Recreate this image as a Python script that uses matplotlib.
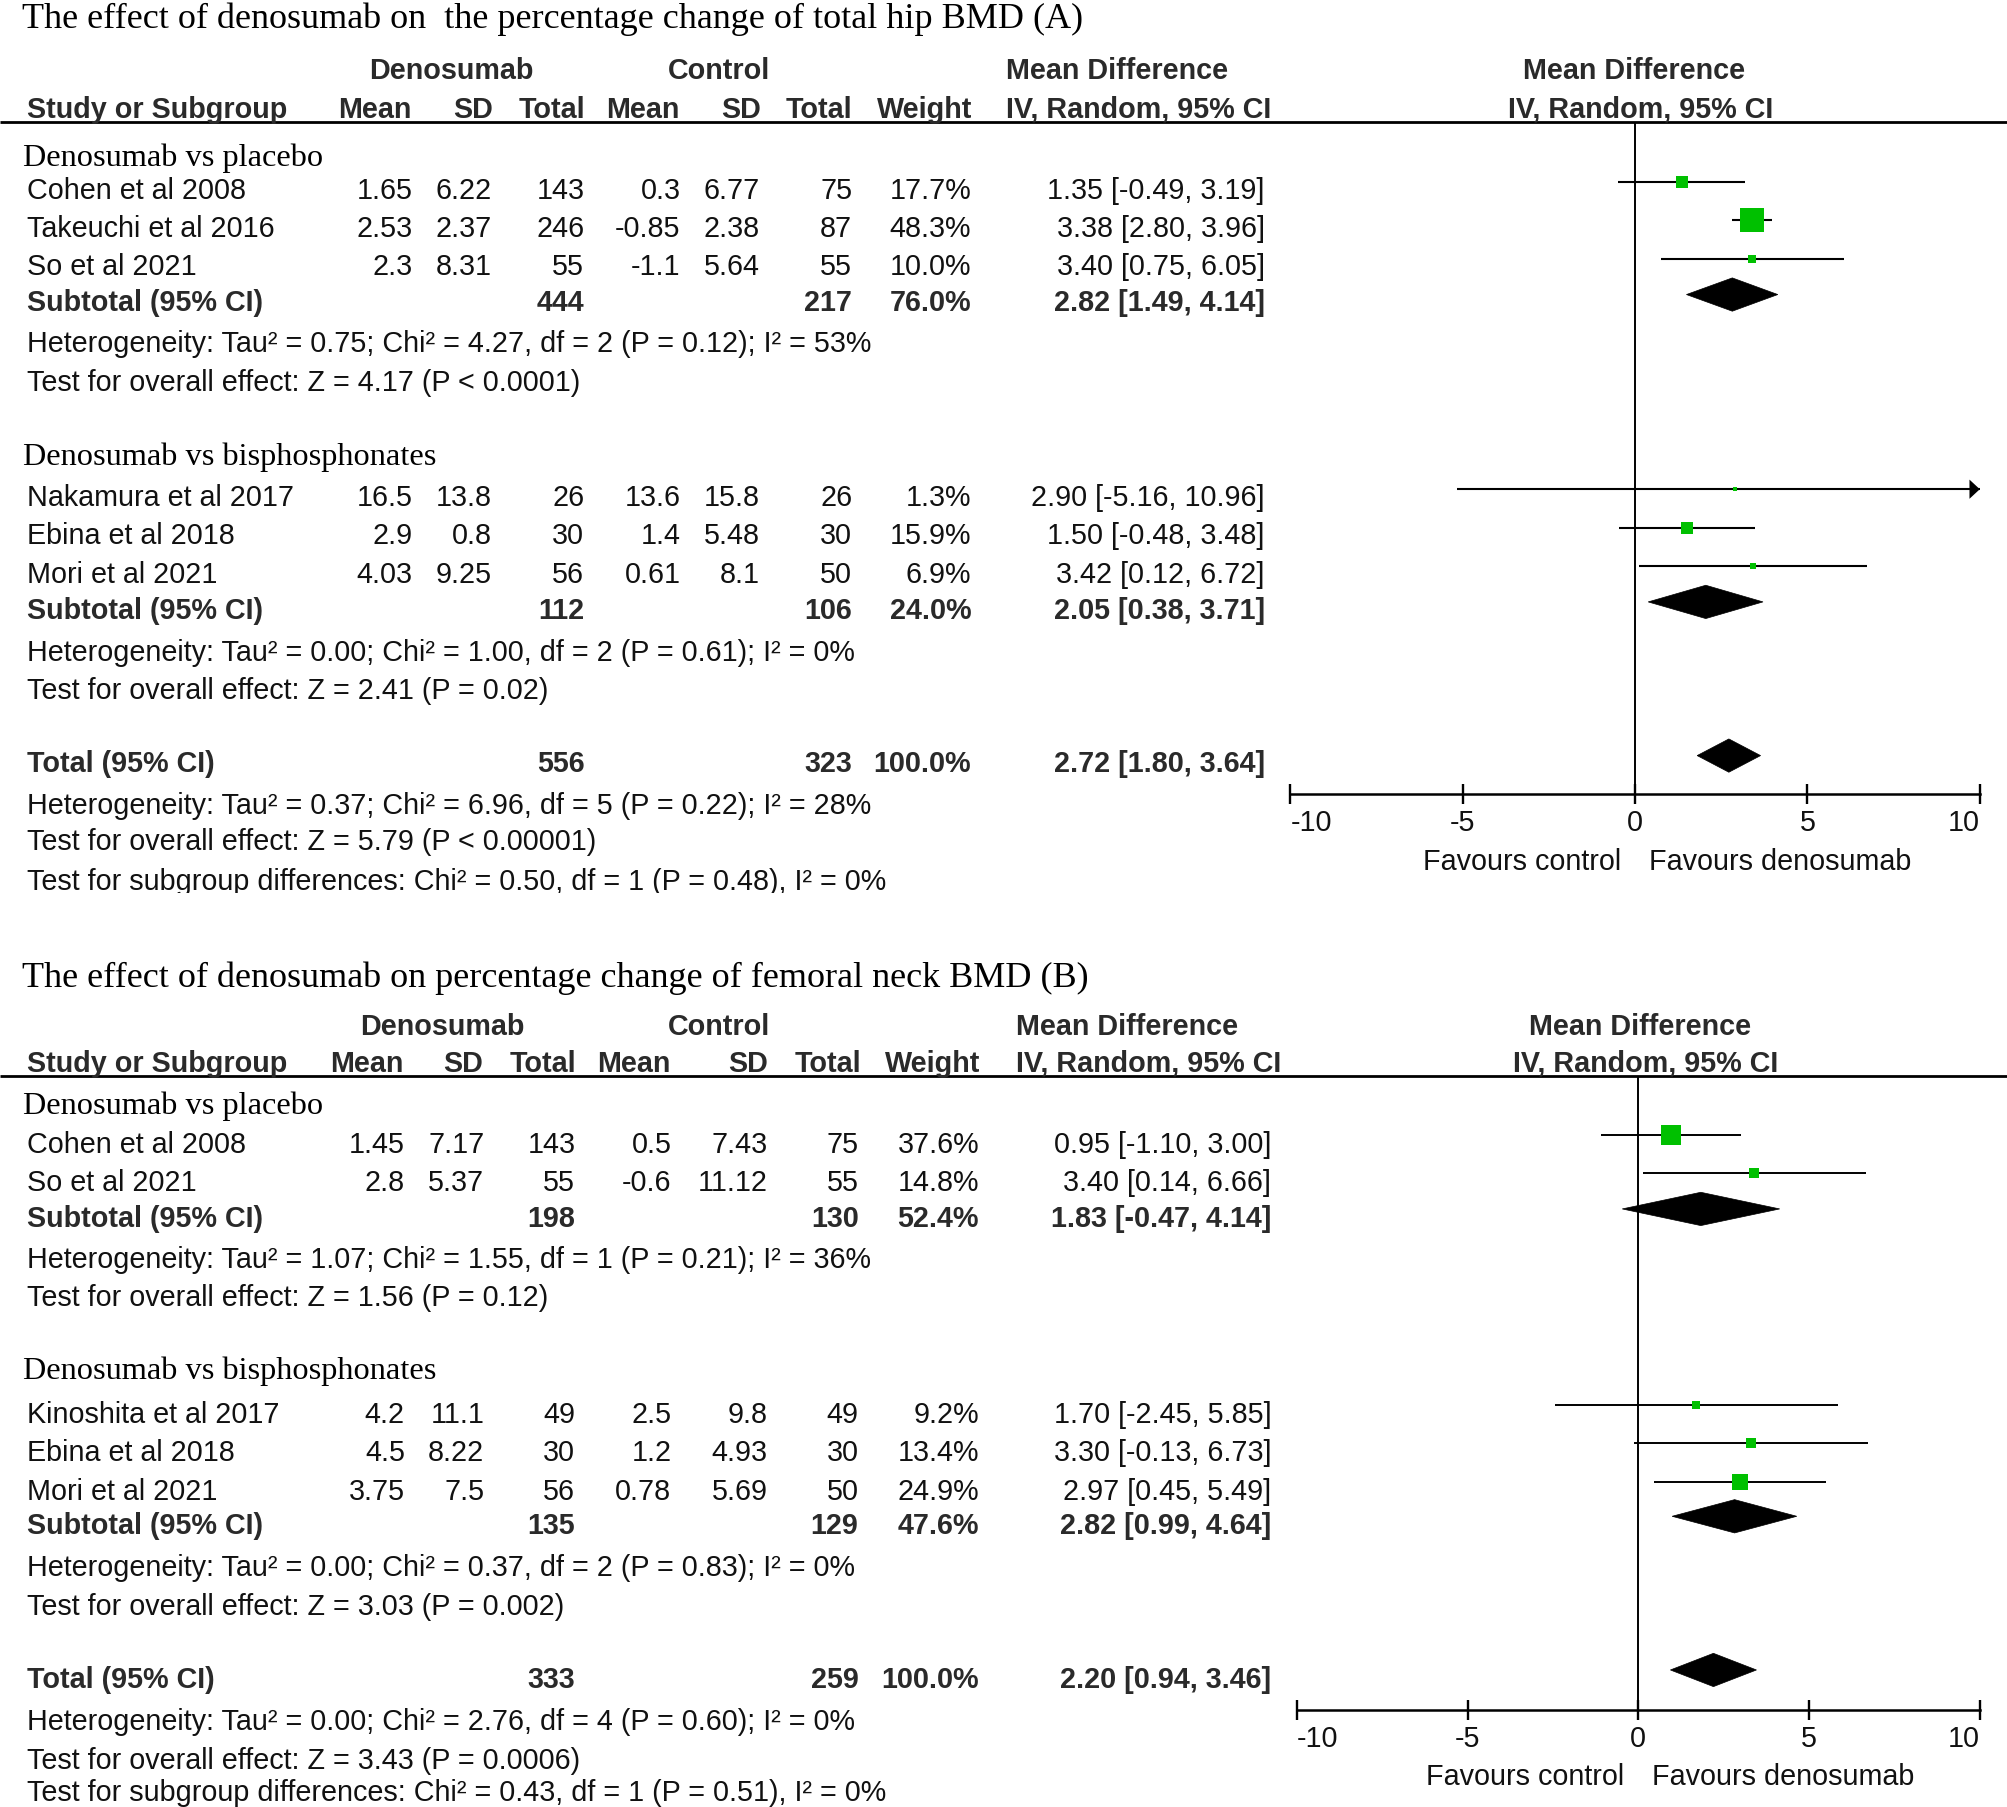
import matplotlib
matplotlib.use("Agg")
import matplotlib.pyplot as plt
from matplotlib.patches import Polygon
from matplotlib.transforms import Bbox, TransformedBbox
import numpy as np

plt.rcParams['font.family'] = ['Liberation Sans', 'DejaVu Sans']

# ------------------------------------------------------------------ data
GROUP_NAMES = ["Denosumab vs placebo", "Denosumab vs bisphosphonates"]
XTICKS = [-10, -5, 0, 5, 10]
XTICK_LABELS = ["-10", "-5", "0", "5", "10"]

# Panel A: total hip BMD
A_TITLE = "The effect of denosumab on  the percentage change of total hip BMD (A)"
A_STUDIES = ["Cohen et al 2008", "Takeuchi et al 2016", "So et al 2021",
             "Nakamura et al 2017", "Ebina et al 2018", "Mori et al 2021"]
A_GROUP = [0, 0, 0, 1, 1, 1]
A_DEN_MEAN = [1.65, 2.53, 2.3, 16.5, 2.9, 4.03]
A_DEN_SD = [6.22, 2.37, 8.31, 13.8, 0.8, 9.25]
A_DEN_N = [143, 246, 55, 26, 30, 56]
A_CTL_MEAN = [0.3, -0.85, -1.1, 13.6, 1.4, 0.61]
A_CTL_SD = [6.77, 2.38, 5.64, 15.8, 5.48, 8.1]
A_CTL_N = [75, 87, 55, 26, 30, 50]
A_WEIGHT = [17.7, 48.3, 10.0, 1.3, 15.9, 6.9]
A_MD = [1.35, 3.38, 3.40, 2.90, 1.50, 3.42]
A_LO = [-0.49, 2.80, 0.75, -5.16, -0.48, 0.12]
A_HI = [3.19, 3.96, 6.05, 10.96, 3.48, 6.72]
A_SUB_DEN_N = [444, 112]
A_SUB_CTL_N = [217, 106]
A_SUB_WEIGHT = [76.0, 24.0]
A_SUB_MD = [2.82, 2.05]
A_SUB_LO = [1.49, 0.38]
A_SUB_HI = [4.14, 3.71]
A_SUB_HET = ["Heterogeneity: Tau² = 0.75; Chi² = 4.27, df = 2 (P = 0.12); I² = 53%",
             "Heterogeneity: Tau² = 0.00; Chi² = 1.00, df = 2 (P = 0.61); I² = 0%"]
A_SUB_TEST = ["Test for overall effect: Z = 4.17 (P < 0.0001)",
              "Test for overall effect: Z = 2.41 (P = 0.02)"]
A_TOT_DEN_N = 556
A_TOT_CTL_N = 323
A_TOT_WEIGHT = 100.0
A_TOT_MD = 2.72
A_TOT_LO = 1.80
A_TOT_HI = 3.64
A_TOT_LINES = ["Heterogeneity: Tau² = 0.37; Chi² = 6.96, df = 5 (P = 0.22); I² = 28%",
               "Test for overall effect: Z = 5.79 (P < 0.00001)",
               "Test for subgroup differences: Chi² = 0.50, df = 1 (P = 0.48), I² = 0%"]

# Panel B: femoral neck BMD
B_TITLE = "The effect of denosumab on percentage change of femoral neck BMD (B)"
B_STUDIES = ["Cohen et al 2008", "So et al 2021",
             "Kinoshita et al 2017", "Ebina et al 2018", "Mori et al 2021"]
B_GROUP = [0, 0, 1, 1, 1]
B_DEN_MEAN = [1.45, 2.8, 4.2, 4.5, 3.75]
B_DEN_SD = [7.17, 5.37, 11.1, 8.22, 7.5]
B_DEN_N = [143, 55, 49, 30, 56]
B_CTL_MEAN = [0.5, -0.6, 2.5, 1.2, 0.78]
B_CTL_SD = [7.43, 11.12, 9.8, 4.93, 5.69]
B_CTL_N = [75, 55, 49, 30, 50]
B_WEIGHT = [37.6, 14.8, 9.2, 13.4, 24.9]
B_MD = [0.95, 3.40, 1.70, 3.30, 2.97]
B_LO = [-1.10, 0.14, -2.45, -0.13, 0.45]
B_HI = [3.00, 6.66, 5.85, 6.73, 5.49]
B_SUB_DEN_N = [198, 135]
B_SUB_CTL_N = [130, 129]
B_SUB_WEIGHT = [52.4, 47.6]
B_SUB_MD = [1.83, 2.82]
B_SUB_LO = [-0.47, 0.99]
B_SUB_HI = [4.14, 4.64]
B_SUB_HET = ["Heterogeneity: Tau² = 1.07; Chi² = 1.55, df = 1 (P = 0.21); I² = 36%",
             "Heterogeneity: Tau² = 0.00; Chi² = 0.37, df = 2 (P = 0.83); I² = 0%"]
B_SUB_TEST = ["Test for overall effect: Z = 1.56 (P = 0.12)",
              "Test for overall effect: Z = 3.03 (P = 0.002)"]
B_TOT_DEN_N = 333
B_TOT_CTL_N = 259
B_TOT_WEIGHT = 100.0
B_TOT_MD = 2.20
B_TOT_LO = 0.94
B_TOT_HI = 3.46
B_TOT_LINES = ["Heterogeneity: Tau² = 0.00; Chi² = 2.76, df = 4 (P = 0.60); I² = 0%",
               "Test for overall effect: Z = 3.43 (P = 0.0006)",
               "Test for subgroup differences: Chi² = 0.43, df = 1 (P = 0.51), I² = 0%"]

# ------------------------------------------------------------------ layout
W, H = 1567.0, 1411.0
SANS, SERIF = 'Liberation Sans', 'Liberation Serif'
FS, FS_HEAD, FS_TITLE = 20.7, 23.3, 26
GREEN = '#00c000'
TXT = '#111111'
HDR = '#2a2a2a'

fig = plt.figure(figsize=(20.08, 18.07), dpi=100)
ov = fig.add_axes([0, 0, 1, 1])
ov.set_xlim(0, W)
ov.set_ylim(H, 0)
ov.axis('off')

LAYOUT_A = dict(title_y=22, h1_y=62, h2_y=92, line_y=95, heading_y=[130, 363],
                rows_y=[155, 185, 215, 395, 425, 455], sub_y=[243, 483],
                het_y=[275, 516], test_y=[305, 546], tot_y=603,
                tot_lines_y=[636, 664, 695], clip_y=697,
                cols=[322, 384, 456, 531, 593, 665, 758, 987],
                hcols=[321, 385, 457, 530, 594, 665, 759], iv_left=785,
                h1c=[352, 561], ph_c=[1275, 1280],
                px_lo=1007, px_hi=1545, axis_y=620, fav_y=679, moff=-13, lw=1.5)
LAYOUT_B = dict(title_y=771, h1_y=808, h2_y=837, line_y=840, heading_y=[870, 1077],
                rows_y=[900, 930, 1111, 1141, 1171], sub_y=[958, 1198],
                het_y=[990, 1231], test_y=[1020, 1261], tot_y=1318,
                tot_lines_y=[1351, 1381, 1406], clip_y=None,
                cols=[316, 378, 449, 524, 599, 670, 764, 992],
                hcols=[315, 377, 450, 523, 599, 672, 765], iv_left=793,
                h1c=[345, 561], ph_c=[1279.5, 1284],
                px_lo=1012, px_hi=1545, axis_y=1335, fav_y=1394, moff=-14, lw=1.4)


def txt(x, y, s, **kw):
    kw.setdefault('family', SANS)
    kw.setdefault('size', FS)
    kw.setdefault('color', TXT)
    return ov.text(x, y, s, va='baseline', **kw)


def ci_str(md, lo, hi):
    return f"{md:.2f} [{lo:.2f}, {hi:.2f}]"


def draw_panel(P, L):
    txt(17, L['title_y'], P['title'], family=SERIF, size=FS_TITLE, color='black')
    # header
    hb = dict(weight='bold', color=HDR)
    txt(L['h1c'][0], L['h1_y'], 'Denosumab', ha='center', **hb)
    txt(L['h1c'][1], L['h1_y'], 'Control', ha='center', **hb)
    txt(L['iv_left'], L['h1_y'], 'Mean Difference', ha='left', **hb)
    txt(L['ph_c'][0], L['h1_y'], 'Mean Difference', ha='center', **hb)
    txt(21, L['h2_y'], 'Study or Subgroup', ha='left', **hb)
    for x, s in zip(L['hcols'], ['Mean', 'SD', 'Total', 'Mean', 'SD', 'Total', 'Weight']):
        txt(x, L['h2_y'], s, ha='right', **hb)
    txt(L['iv_left'], L['h2_y'], 'IV, Random, 95% CI', ha='left', **hb)
    txt(L['ph_c'][1], L['h2_y'], 'IV, Random, 95% CI', ha='center', **hb)
    ov.plot([0, W], [L['line_y'], L['line_y']], color='black', lw=2.0, solid_capstyle='butt')

    c = L['cols']
    # forest axes
    ax = fig.add_axes([L['px_lo'] / W, 1 - L['axis_y'] / H,
                       (L['px_hi'] - L['px_lo']) / W, (L['axis_y'] - L['line_y']) / H])
    ax.patch.set_visible(False)
    ax.set_xlim(-10, 10)
    ax.set_ylim(L['axis_y'], L['line_y'])
    for sp in ['top', 'left', 'right']:
        ax.spines[sp].set_visible(False)
    ax.spines['bottom'].set_linewidth(1.8)
    ax.set_yticks([])
    ax.set_xticks(XTICKS, XTICK_LABELS)
    ax.tick_params(axis='x', direction='inout', length=14.4, width=1.7, pad=3.5,
                   labelsize=FS, labelcolor=TXT)
    lbls = ax.get_xticklabels()
    lbls[0].set_ha('left')
    lbls[-1].set_ha('right')
    ax.axvline(0, color='black', lw=1.4, zorder=1)

    def diamond(md, lo, hi, y, h=26):
        ax.add_patch(Polygon([[lo, y], [md, y - h / 2], [hi, y], [md, y + h / 2]],
                             closed=True, facecolor='black', edgecolor='black', lw=0.5,
                             zorder=4, clip_on=False))

    for g in range(2):
        txt(18, L['heading_y'][g], GROUP_NAMES[g], family=SERIF, size=FS_HEAD, color='black')
        idx = [i for i, gg in enumerate(P['group']) if gg == g]
        for i in idx:
            y = L['rows_y'][i]
            txt(21, y, P['studies'][i])
            vals = [str(P['den_mean'][i]), str(P['den_sd'][i]), str(P['den_n'][i]),
                    str(P['ctl_mean'][i]), str(P['ctl_sd'][i]), str(P['ctl_n'][i]),
                    f"{P['weight'][i]:.1f}%",
                    ci_str(P['md'][i], P['lo'][i], P['hi'][i])]
            for x, s in zip(c, vals):
                txt(x, y, s, ha='right')
            ym = y + L['moff']
            hi = min(P['hi'][i], 10)
            lo = max(P['lo'][i], -10)
            ax.plot([lo, hi], [ym, ym], color='black', lw=L['lw'], zorder=2,
                    solid_capstyle='butt', clip_on=False)
            if P['hi'][i] > 10:
                ax.add_patch(Polygon([[10, ym], [9.7, ym - 7.5], [9.7, ym + 7.5]],
                                     closed=True, facecolor='black', edgecolor='none',
                                     clip_on=False, zorder=3))
            side_px = max(4.5, 1.88 * P['weight'][i] ** 0.65)
            ax.scatter([P['md'][i]], [ym], marker='s', s=(side_px * 0.72) ** 2,
                       color=GREEN, linewidths=0, zorder=3, clip_on=False)
        y = L['sub_y'][g]
        sb = dict(weight='bold', color=HDR)
        txt(21, y, 'Subtotal (95% CI)', **sb)
        txt(c[2], y, str(P['sub_den_n'][g]), ha='right', **sb)
        txt(c[5], y, str(P['sub_ctl_n'][g]), ha='right', **sb)
        txt(c[6], y, f"{P['sub_weight'][g]:.1f}%", ha='right', **sb)
        txt(c[7], y, ci_str(P['sub_md'][g], P['sub_lo'][g], P['sub_hi'][g]), ha='right', **sb)
        diamond(P['sub_md'][g], P['sub_lo'][g], P['sub_hi'][g], y + L['moff'])
        txt(21, L['het_y'][g], P['sub_het'][g])
        txt(21, L['test_y'][g], P['sub_test'][g])

    y = L['tot_y']
    sb = dict(weight='bold', color=HDR)
    txt(21, y, 'Total (95% CI)', **sb)
    txt(c[2], y, str(P['tot_den_n']), ha='right', **sb)
    txt(c[5], y, str(P['tot_ctl_n']), ha='right', **sb)
    txt(c[6], y, f"{P['tot_weight']:.1f}%", ha='right', **sb)
    txt(c[7], y, ci_str(P['tot_md'], P['tot_lo'], P['tot_hi']), ha='right', **sb)
    diamond(P['tot_md'], P['tot_lo'], P['tot_hi'], y + L['moff'])
    for yy, s in zip(L['tot_lines_y'], P['tot_lines']):
        t = txt(21, yy, s)
        if L['clip_y'] is not None:
            t.set_clip_box(TransformedBbox(Bbox.from_extents(0, 1 - L['clip_y'] / H, 1, 1),
                                           fig.transFigure))
            t.set_clip_on(True)

    xz = (L['px_lo'] + L['px_hi']) / 2
    txt(xz - 11, L['fav_y'], 'Favours control', ha='right')
    txt(xz + 11, L['fav_y'], 'Favours denosumab', ha='left')


PANEL_A = dict(title=A_TITLE, studies=A_STUDIES, group=A_GROUP, den_mean=A_DEN_MEAN,
               den_sd=A_DEN_SD, den_n=A_DEN_N, ctl_mean=A_CTL_MEAN, ctl_sd=A_CTL_SD,
               ctl_n=A_CTL_N, weight=A_WEIGHT, md=A_MD, lo=A_LO, hi=A_HI,
               sub_den_n=A_SUB_DEN_N, sub_ctl_n=A_SUB_CTL_N, sub_weight=A_SUB_WEIGHT,
               sub_md=A_SUB_MD, sub_lo=A_SUB_LO, sub_hi=A_SUB_HI, sub_het=A_SUB_HET,
               sub_test=A_SUB_TEST, tot_den_n=A_TOT_DEN_N, tot_ctl_n=A_TOT_CTL_N,
               tot_weight=A_TOT_WEIGHT, tot_md=A_TOT_MD, tot_lo=A_TOT_LO, tot_hi=A_TOT_HI,
               tot_lines=A_TOT_LINES)
PANEL_B = dict(title=B_TITLE, studies=B_STUDIES, group=B_GROUP, den_mean=B_DEN_MEAN,
               den_sd=B_DEN_SD, den_n=B_DEN_N, ctl_mean=B_CTL_MEAN, ctl_sd=B_CTL_SD,
               ctl_n=B_CTL_N, weight=B_WEIGHT, md=B_MD, lo=B_LO, hi=B_HI,
               sub_den_n=B_SUB_DEN_N, sub_ctl_n=B_SUB_CTL_N, sub_weight=B_SUB_WEIGHT,
               sub_md=B_SUB_MD, sub_lo=B_SUB_LO, sub_hi=B_SUB_HI, sub_het=B_SUB_HET,
               sub_test=B_SUB_TEST, tot_den_n=B_TOT_DEN_N, tot_ctl_n=B_TOT_CTL_N,
               tot_weight=B_TOT_WEIGHT, tot_md=B_TOT_MD, tot_lo=B_TOT_LO, tot_hi=B_TOT_HI,
               tot_lines=B_TOT_LINES)

draw_panel(PANEL_A, LAYOUT_A)
draw_panel(PANEL_B, LAYOUT_B)

fig.savefig('out.png', dpi=100, facecolor='white')
